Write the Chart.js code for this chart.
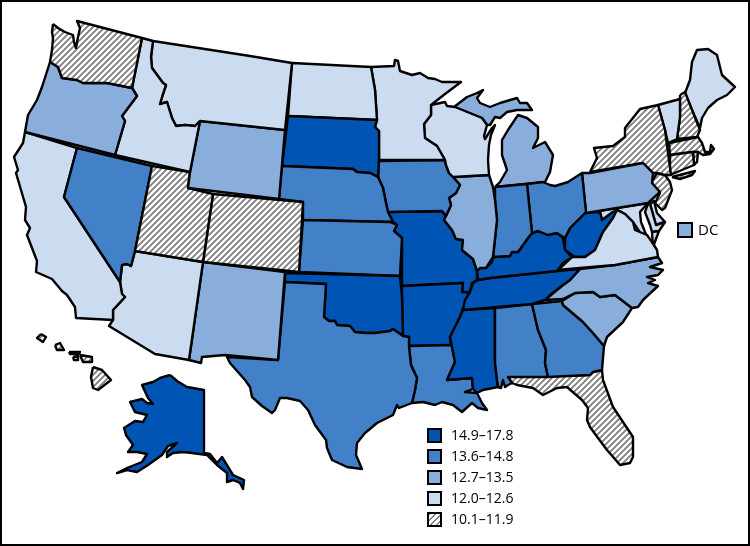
<!DOCTYPE html>
<html>
<head>
<meta charset="utf-8">
<title>US map</title>
<script src="https://cdn.jsdelivr.net/npm/chart.js@4/dist/chart.umd.min.js"></script>
<style>
  html, body { margin: 0; padding: 0; background: #fff; }
  #wrap { position: relative; width: 750px; height: 546px; overflow: hidden; font-family: "Open Sans", sans-serif; color: #000; }
  #frame { position: absolute; left: 0; top: 0; width: 750px; height: 546px; box-sizing: border-box; border: 2px solid #000; pointer-events: none; }
  canvas { position: absolute; left: 0; top: 0; }
  .row { position: absolute; left: 427px; height: 16px; line-height: 16px; font-size: 14px; white-space: nowrap; }
  .box { position: absolute; left: 0; top: 0; width: 15px; height: 15px; box-sizing: border-box; border: 2px solid #000; }
  .txt { position: absolute; left: 24px; top: -1px; }
  #dc { left: 677px; top: 222px; font-size: 15px; }
  #dc .txt { left: 21px; }
  #dc .box { width: 16px; height: 16px; }
</style>
</head>
<body>
<div id="wrap">
  <canvas id="map" width="750" height="546"></canvas>
  <div id="legend"></div>
  <div id="frame"></div>
</div>
<script>
'use strict';

// rate classes, darkest first
const classLabels = ['14.9–17.8', '13.6–14.8', '12.7–13.5', '12.0–12.6', '10.1–11.9'];
const classColors = ['#0054b4', '#4280c8', '#89aedc', '#cbdcf1', 'hatch'];

// outlines, in picture units
const WA = [[53,24],[52,32],[53,38],[52,50],[50,62],[58,67],[62,78],[77,80],[83,83],[107,83],[132,88],[142,38],[77,21],[80,28],[78,37],[76,48],[74,42],[73,35],[65,32],[58,28],[53,24]];
const OR = [[50,62],[58,67],[62,78],[77,80],[83,83],[107,83],[132,88],[137,96],[125,112],[122,116],[125,121],[115,155],[25,132],[28,115],[37,100],[42,87],[50,62]];
const ID = [[142,38],[153,41],[151,57],[152,68],[163,83],[166,85],[162,97],[160,104],[167,102],[172,118],[176,126],[185,125],[195,126],[200,121],[190,172],[115,155],[125,121],[122,116],[125,112],[137,96],[132,88],[142,38]];
const MT = [[153,41],[250,56],[292,63],[285,130],[200,121],[195,126],[185,125],[176,126],[172,118],[167,102],[160,104],[162,97],[166,85],[163,83],[152,68],[151,57],[153,41]];
const WY = [[200,121],[285,130],[279,199],[188,188],[190,172],[200,121]];
const UT = [[152,166],[190,172],[188,188],[213,194],[203,262],[135,251],[152,166]];
const CO = [[213,194],[303,202],[299,272],[203,262],[213,194]];
const NV = [[77,148],[152,166],[135,251],[131,266],[127,264],[122,265],[120,282],[64,197],[77,148]];
const CA = [[25,132],[77,148],[64,197],[120,282],[122,294],[125,297],[113,310],[113,320],[76,318],[75,307],[67,295],[62,291],[52,279],[36,272],[37,261],[27,235],[30,228],[25,220],[26,207],[16,173],[18,170],[14,157],[23,143],[25,132]];
const AZ = [[135,251],[203,262],[189,360],[155,354],[109,326],[113,320],[113,310],[125,297],[122,294],[120,282],[122,265],[127,264],[131,266],[135,251]];
const NM = [[203,262],[285,272],[278,360],[225,355],[202,357],[201,363],[189,360],[203,262]];
const TX = [[285,282],[326,284],[324,317],[329,321],[335,321],[337,325],[350,326],[355,332],[365,333],[375,333],[390,331],[393,329],[403,336],[409,337],[409,347],[411,365],[417,378],[415,390],[412,403],[399,408],[397,405],[393,415],[377,423],[365,433],[357,443],[356,455],[362,469],[347,467],[332,460],[327,448],[326,440],[315,425],[308,410],[300,401],[287,398],[280,398],[275,410],[272,413],[262,406],[252,397],[250,387],[245,380],[230,363],[227,357],[278,360],[285,282]];
const OK = [[285,273],[400,276],[402,297],[403,336],[393,329],[390,331],[375,333],[365,333],[355,332],[350,326],[337,325],[335,321],[329,321],[324,317],[326,284],[285,282],[285,273]];
const KS = [[303,220],[390,222],[397,225],[394,231],[402,238],[400,276],[299,272],[303,220]];
const NE = [[282,166],[353,169],[357,172],[370,173],[378,177],[383,188],[386,203],[388,212],[393,222],[303,220],[303,202],[279,199],[282,166]];
const SD = [[288,116],[377,120],[375,127],[379,131],[379,160],[378,177],[370,173],[357,172],[353,169],[282,166],[288,116]];
const ND = [[292,63],[371,67],[375,90],[377,120],[288,116],[292,63]];
const MN = [[371,67],[394,66],[395,60],[398,61],[400,71],[412,75],[420,73],[428,78],[435,79],[442,82],[461,82],[445,94],[431,105],[431,115],[424,124],[425,138],[437,146],[445,160],[379,160],[379,131],[375,127],[377,120],[375,90],[371,67]];
const WI = [[431,105],[445,102],[447,106],[455,107],[482,118],[487,125],[484,136],[485,139],[492,128],[495,125],[491,135],[489,145],[488,160],[489,175],[453,177],[449,173],[446,165],[445,160],[437,146],[425,138],[424,124],[431,115],[431,105]];
const IA = [[379,161],[445,160],[446,165],[449,173],[453,177],[460,185],[456,193],[449,198],[451,205],[446,216],[442,211],[388,212],[386,203],[383,188],[378,177],[379,161]];
const IL = [[453,177],[489,175],[493,187],[495,200],[497,220],[493,257],[486,268],[480,268],[477,271],[473,259],[462,250],[463,240],[456,239],[452,230],[444,220],[446,216],[451,205],[449,198],[456,193],[460,185],[453,177]];
const IN = [[495,187],[527,184],[532,233],[528,238],[518,252],[512,252],[510,256],[493,257],[497,220],[495,200],[495,187]];
const OH = [[527,184],[543,182],[550,185],[555,186],[568,182],[582,173],[586,212],[575,223],[570,228],[565,238],[557,233],[548,235],[538,231],[532,233],[527,184]];
const MI = [[495,187],[545,182],[550,172],[553,155],[545,142],[533,148],[538,138],[538,127],[527,118],[518,115],[508,130],[502,140],[502,155],[507,170],[500,182],[495,187]];
const MI_UP = [[454,107],[467,97],[477,93],[483,90],[477,98],[480,103],[490,107],[500,103],[517,98],[520,103],[527,103],[532,110],[517,110],[507,112],[500,118],[495,117],[490,125],[487,125],[482,118],[454,107]];
const PA = [[582,173],[590,173],[643,163],[653,173],[652,183],[660,192],[648,203],[586,213],[582,173]];
const NY = [[590,172],[597,158],[594,148],[613,146],[625,137],[625,128],[640,109],[658,105],[665,130],[668,153],[671,175],[665,175],[657,173],[653,173],[643,163],[590,172]];
const NY_LI = [[672,177],[695,171],[692,175],[680,179],[672,177]];
const NJ = [[652,181],[657,173],[665,175],[670,182],[672,190],[665,208],[662,210],[655,203],[660,193],[653,187],[652,181]];
const CT = [[670,155],[693,152],[694,165],[670,175],[670,155]];
const RI = [[693,152],[698,152],[697,162],[694,165],[693,152]];
const MA = [[669,143],[698,137],[702,143],[705,152],[710,152],[711,145],[714,149],[710,154],[703,155],[698,152],[693,152],[670,155],[669,143]];
const VT = [[658,105],[680,99],[680,117],[677,139],[668,143],[665,130],[658,105]];
const NH = [[680,95],[685,92],[692,110],[700,130],[697,137],[677,139],[680,117],[680,95]];
const ME = [[685,93],[690,80],[692,62],[697,50],[708,49],[717,55],[722,75],[735,87],[727,95],[717,100],[708,108],[702,118],[700,128],[692,110],[685,93]];
const KY = [[477,271],[478,280],[490,278],[557,271],[563,263],[572,257],[565,250],[563,238],[557,233],[548,235],[538,231],[532,233],[528,238],[518,252],[512,252],[510,256],[493,257],[492,262],[486,268],[480,268],[477,271]];
const TN = [[463,310],[532,304],[545,300],[550,295],[563,285],[570,280],[580,269],[557,271],[490,278],[478,280],[473,283],[470,292],[465,300],[463,310]];
const VA = [[558,270],[572,257],[575,257],[585,257],[595,250],[603,232],[613,218],[617,210],[625,214],[633,222],[635,230],[647,235],[652,242],[657,250],[658,257],[615,265],[580,268],[558,270]];
const VA_ES = [[652,232],[659,231],[653,247],[652,232]];
const WV = [[565,238],[570,228],[575,223],[585,213],[600,212],[602,220],[613,212],[617,210],[622,212],[613,218],[603,232],[595,250],[585,257],[575,257],[565,250],[565,238]];
const MD = [[586,213],[648,203],[640,212],[641,222],[645,232],[648,238],[641,234],[633,222],[625,214],[617,210],[613,212],[602,220],[600,212],[586,213]];
const MD_ES = [[648,204],[650,204],[656,225],[665,222],[659,231],[652,232],[650,225],[645,212],[648,204]];
const DE = [[650,204],[654,201],[657,213],[665,222],[656,225],[650,204]];
const NC = [[545,300],[563,285],[570,280],[580,269],[615,265],[658,257],[662,263],[650,267],[663,270],[658,275],[647,277],[655,280],[648,283],[658,286],[643,300],[638,307],[632,308],[615,295],[600,297],[593,292],[575,293],[563,299],[545,300]];
const SC = [[562,301],[575,293],[593,292],[600,297],[615,295],[632,308],[623,322],[607,337],[604,346],[593,333],[583,322],[563,305],[562,301]];
const GA = [[532,304],[562,301],[563,305],[583,322],[593,333],[604,346],[602,370],[593,372],[590,375],[548,377],[545,363],[546,350],[538,330],[532,304]];
const AL = [[495,308],[532,304],[538,330],[546,350],[545,363],[548,377],[508,377],[512,383],[508,385],[505,387],[503,380],[501,388],[498,387],[497,380],[495,363],[495,308]];
const FL = [[508,377],[545,373],[548,376],[588,375],[593,372],[602,370],[603,380],[613,407],[633,437],[633,457],[630,463],[620,465],[607,450],[598,438],[590,427],[587,420],[588,408],[582,400],[567,387],[557,388],[543,395],[533,388],[517,385],[512,383],[508,377]];
const MS = [[463,310],[495,308],[495,363],[497,380],[498,387],[483,390],[477,393],[473,389],[472,378],[447,380],[455,362],[452,347],[450,337],[460,317],[463,310]];
const LA = [[409,346],[451,345],[452,347],[455,362],[447,380],[472,378],[473,389],[465,392],[477,393],[482,403],[487,410],[478,408],[472,403],[462,412],[453,405],[442,402],[435,405],[423,402],[412,403],[415,390],[417,378],[411,365],[409,346]];
const AR = [[402,286],[463,283],[462,292],[472,293],[467,300],[463,308],[460,317],[450,337],[451,345],[409,346],[409,337],[403,336],[402,297],[402,286]];
const MO = [[388,212],[442,211],[446,216],[444,220],[452,230],[456,239],[463,240],[462,250],[473,259],[477,271],[477,280],[472,283],[470,292],[462,292],[463,283],[402,286],[402,238],[394,231],[397,225],[393,222],[388,212]];
const HI_1 = [[41,334],[46,337],[43,342],[37,338],[41,334]];
const HI_2 = [[55,345],[60,343],[64,350],[57,350],[55,345]];
const HI_3 = [[69,352],[80,352],[79,354],[70,354],[69,352]];
const HI_4 = [[73,357],[78,356],[78,360],[74,360],[73,357]];
const HI_5 = [[80,355],[92,357],[92,362],[83,362],[80,355]];
const HI_6 = [[93,367],[102,370],[111,380],[98,390],[93,388],[91,377],[93,367]];
const AK = [[170,375],[177,381],[187,387],[204,390],[204,453],[210,454],[217,463],[222,457],[233,475],[244,480],[243,489],[240,483],[233,480],[227,482],[227,473],[217,465],[207,455],[192,453],[183,452],[173,453],[167,457],[167,452],[177,443],[168,446],[162,455],[148,465],[137,472],[127,470],[117,473],[127,468],[142,462],[147,454],[137,452],[128,452],[133,445],[126,435],[124,428],[135,421],[143,422],[147,415],[135,412],[130,402],[142,399],[147,403],[153,404],[148,398],[142,385],[153,382],[160,378],[170,375]];

const stateShapes = [WA,OR,ID,MT,WY,UT,CO,NV,CA,AZ,NM,TX,OK,KS,NE,SD,ND,MN,WI,IA,IL,IN,OH,MI,MI_UP,PA,NY,NY_LI,NJ,CT,RI,MA,VT,NH,ME,KY,TN,VA,VA_ES,WV,MD,MD_ES,DE,NC,SC,GA,AL,FL,MS,LA,AR,MO,HI_1,HI_2,HI_3,HI_4,HI_5,HI_6,AK];
// class index (into classLabels) for each shape above
const stateClass = [4,2,3,3,2,4,4,1,3,3,2,1,0,1,1,0,3,3,3,1,2,1,1,2,2,2,4,4,4,4,4,4,3,4,3,0,0,3,3,0,3,3,3,2,2,1,1,4,0,1,0,0,4,4,4,4,4,4,0];
const dcLabel = 'DC';
const dcClass = 2;

function hatchTile() {
  const c = document.createElement('canvas');
  c.width = 6; c.height = 6;
  const g = c.getContext('2d');
  g.fillStyle = '#fff';
  g.fillRect(0, 0, 6, 6);
  g.strokeStyle = '#808080';
  g.lineWidth = 1.9;
  g.beginPath();
  g.moveTo(-3, 3); g.lineTo(3, -3);
  g.moveTo(0, 6); g.lineTo(6, 0);
  g.moveTo(3, 9); g.lineTo(9, 3);
  g.stroke();
  return c;
}

const ctx = document.getElementById('map').getContext('2d');
const hatch = ctx.createPattern(hatchTile(), 'repeat');

function classFill(i) {
  return classColors[i] === 'hatch' ? hatch : classColors[i];
}

const datasets = stateShapes.map(function (shape, i) {
  return {
    data: shape.map(function (p) { return { x: p[0], y: p[1] }; }),
    showLine: true,
    fill: 'shape',
    tension: 0,
    backgroundColor: classFill(stateClass[i]),
    borderColor: '#000',
    borderWidth: 2.4,
    borderJoinStyle: 'round',
    borderDash: [5000, 0], // solid, but keeps chart.js off its fast path, which merges points in one pixel column
    pointRadius: 0,
    pointHoverRadius: 0
  };
});

new Chart(ctx, {
  type: 'scatter',
  data: { datasets: datasets },
  options: {
    responsive: false,
    animation: false,
    layout: { padding: 0 },
    plugins: { legend: { display: false }, tooltip: { enabled: false } },
    scales: {
      x: { type: 'linear', min: 0, max: 750, display: false },
      y: { type: 'linear', min: 0, max: 546, reverse: true, display: false }
    }
  }
});

// legend is plain html so the labels stay text
const hatchCss = 'repeating-linear-gradient(135deg,#808080 0,#808080 1.4px,#fff 1.4px,#fff 4.2px)';
const legend = document.getElementById('legend');

function addRow(label, cls, id, top) {
  const row = document.createElement('div');
  row.className = 'row';
  if (id) row.id = id;
  if (top !== null) row.style.top = top + 'px';
  const box = document.createElement('div');
  box.className = 'box';
  box.style.background = classColors[cls] === 'hatch' ? hatchCss : classColors[cls];
  const txt = document.createElement('div');
  txt.className = 'txt';
  txt.textContent = label;
  row.appendChild(box);
  row.appendChild(txt);
  legend.appendChild(row);
}

classLabels.forEach(function (label, i) {
  addRow(label, i, null, 428 + i * 21);
});
addRow(dcLabel, dcClass, 'dc', null);
</script>
</body>
</html>
